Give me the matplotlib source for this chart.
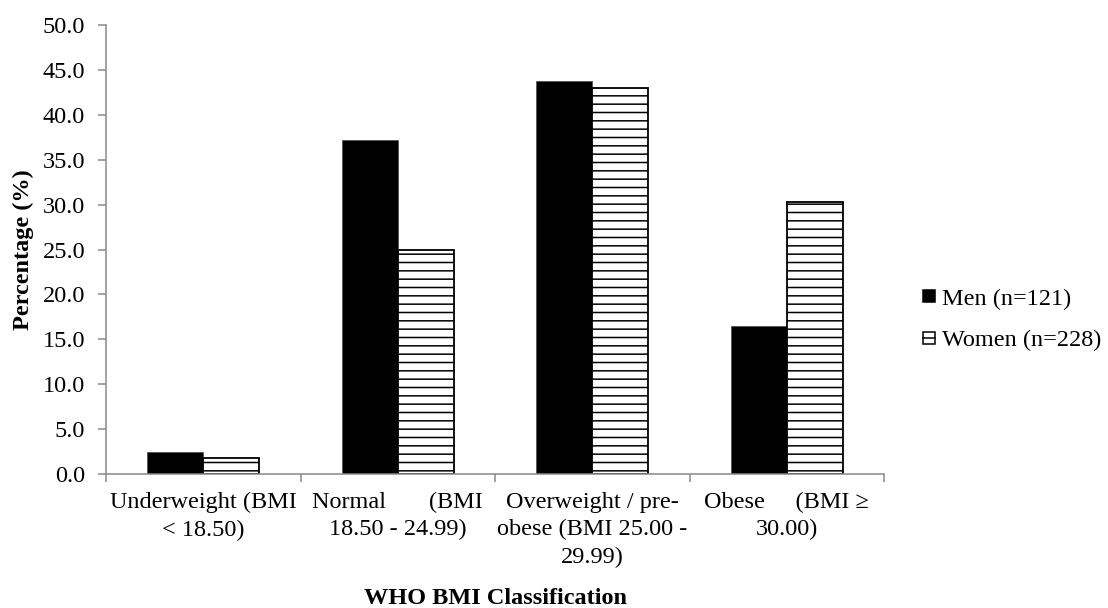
import matplotlib
matplotlib.use("Agg")
import matplotlib.pyplot as plt
import matplotlib.patches as mpatches
import matplotlib.lines as mlines
from matplotlib.legend_handler import HandlerBase
import numpy as np

categories = [
    "Underweight (BMI\n< 18.50)",
    "Normal       (BMI\n18.50 - 24.99)",
    "Overweight / pre-\nobese (BMI 25.00 -\n29.99)",
    "Obese     (BMI \u2265\n30.00)",
]
men = [2.5, 37.2, 43.8, 16.5]
women = [1.8, 25.0, 43.0, 30.3]
series_labels = ["Men (n=121)", "Women (n=228)"]
yticks = [0, 5, 10, 15, 20, 25, 30, 35, 40, 45, 50]

plt.rcParams['font.family'] = ['Liberation Serif', 'DejaVu Serif']
plt.rcParams['hatch.linewidth'] = 1.1
FS = 17.5


class BoxHandler(HandlerBase):
    def __init__(self, filled):
        super().__init__()
        self.filled = filled

    def create_artists(self, legend, orig_handle, xdescent, ydescent, width, height, fontsize, trans):
        s = min(width, height)
        x0 = -xdescent + (width - s) / 2
        y0 = -ydescent + (height - s) / 2
        rect = mpatches.Rectangle((x0, y0), s, s,
                                  facecolor='black' if self.filled else 'white',
                                  edgecolor='black', linewidth=1.1, transform=trans)
        arts = [rect]
        if not self.filled:
            ln = mlines.Line2D([x0, x0 + s], [y0 + s / 2, y0 + s / 2], color='black',
                               linewidth=1.1, transform=trans)
            arts.append(ln)
        return arts


fig = plt.figure(figsize=(11.08, 6.08), dpi=100)
ax = fig.add_axes([106/1108, 1-474/608, 778/1108, 449/608])

x = np.arange(len(categories))
w = 0.289
ax.bar(x - w/2, men, width=w, color='black', edgecolor='#555555', linewidth=0.6)
ax.bar(x + w/2, women, width=w, color='white', edgecolor='black', linewidth=1.3, hatch='--')

ax.set_xlim(-0.5, len(categories) - 0.5)
ax.set_ylim(0, 50)
ax.set_yticks(yticks)
ax.set_yticklabels([f"{v:.1f}" for v in yticks], fontsize=FS)

ax.set_xticks(x)
ax.set_xticklabels(categories, fontsize=FS, linespacing=1.38)
ax.set_xticks(np.arange(-0.5, len(categories)), minor=True)
ax.tick_params(axis='x', which='major', length=0, pad=13)
ax.tick_params(axis='x', which='minor', length=6, width=1.1, color='#898989')
ax.tick_params(axis='y', length=6, width=1.1, color='#898989', pad=9)

for s in ['top', 'right']:
    ax.spines[s].set_visible(False)
for s in ['left', 'bottom']:
    ax.spines[s].set_color('#898989')
    ax.spines[s].set_linewidth(1.1)

ax.set_ylabel("Percentage (%)", fontsize=FS, fontweight='bold', va='center')
ax.yaxis.set_label_coords(-0.106, 0.5)
ax.set_xlabel("WHO BMI Classification", fontsize=FS, fontweight='bold', va='center')
ax.xaxis.set_label_coords(0.5, (474-598)/449)

h_men = mpatches.Patch(facecolor='black')
h_women = mpatches.Patch(facecolor='white')
fig.legend([h_men, h_women], series_labels, loc='center left',
           bbox_to_anchor=(923/1108, 1-320/608),
           handler_map={h_men: BoxHandler(True), h_women: BoxHandler(False)},
           frameon=False, fontsize=FS, handlelength=0.48, handleheight=0.48,
           handletextpad=0.3, labelspacing=0.85, borderaxespad=0, borderpad=0)

fig.savefig("out.png", dpi=100)
